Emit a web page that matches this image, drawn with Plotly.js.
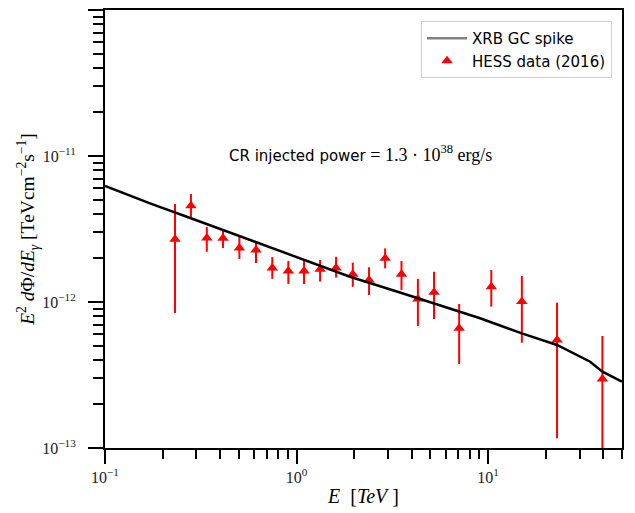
<!DOCTYPE html>
<html>
<head>
<meta charset="utf-8">
<script src="https://cdn.plot.ly/plotly-3.0.1.min.js"></script>
<style>html,body{margin:0;padding:0;background:#fff;} #chart{width:635px;height:513px;}</style>
</head>
<body>
<div id="chart"></div>
<script>
// Model curve (XRB GC spike)
const curveE = [0.1, 0.1718, 0.3, 0.5, 1.0, 1.9, 3.5, 6.0, 9.08, 15.0, 22.9, 34.1, 39.5, 50];
const curveF = [6.23e-12, 4.74e-12, 3.63e-12, 2.84e-12, 2.03e-12, 1.49e-12, 1.156e-12, 9.21e-13, 7.74e-13, 6.10e-13, 5.08e-13, 3.90e-13, 3.33e-13, 2.85e-13];

// HESS data (2016)
const hessE = [0.232, 0.281, 0.340, 0.413, 0.503, 0.614, 0.747, 0.906, 1.094, 1.327, 1.608, 1.966, 2.39, 2.90, 3.53, 4.30, 5.22, 7.06, 10.39, 15.0, 22.9, 39.5];
const hessF = [2.69e-12, 4.57e-12, 2.74e-12, 2.73e-12, 2.34e-12, 2.27e-12, 1.71e-12, 1.63e-12, 1.63e-12, 1.675e-12, 1.71e-12, 1.55e-12, 1.415e-12, 1.99e-12, 1.55e-12, 1.048e-12, 1.165e-12, 6.60e-13, 1.27e-12, 1.008e-12, 5.49e-13, 2.97e-13];
const hessHi = [4.69e-12, 5.49e-12, 3.26e-12, 3.16e-12, 2.79e-12, 2.54e-12, 2.03e-12, 1.91e-12, 1.94e-12, 1.94e-12, 2.04e-12, 1.86e-12, 1.73e-12, 2.33e-12, 1.91e-12, 1.44e-12, 1.61e-12, 9.69e-13, 1.656e-12, 1.507e-12, 9.89e-13, 5.85e-13];
const hessLo = [8.41e-13, 3.70e-12, 2.21e-12, 2.34e-12, 1.97e-12, 1.85e-12, 1.44e-12, 1.33e-12, 1.33e-12, 1.38e-12, 1.47e-12, 1.27e-12, 1.116e-12, 1.70e-12, 1.21e-12, 6.85e-13, 7.65e-13, 3.76e-13, 9.29e-13, 5.26e-13, 1.165e-13, 1e-14];

// Tick labels
const xTickVals = [0.1, 1, 10];
const xTickText = ['10<sup>−1</sup>', '10<sup>0</sup>', '10<sup>1</sup>'];
const yTickVals = [1e-13, 1e-12, 1e-11, 1e-10];
const yTickText = ['10<sup>−13</sup>', '10<sup>−12</sup>', '10<sup>−11</sup>', '10<sup>−10</sup>'];

const serif = 'Liberation Serif, DejaVu Serif, serif';
const sans = 'DejaVu Sans, sans-serif';

const errPlus = hessHi.map((h, i) => h - hessF[i]);
const errMinus = hessLo.map((l, i) => hessF[i] - l);

const traces = [
  { x: [null], y: [null], mode: 'lines', name: 'XRB GC spike',
    line: { color: '#808080', width: 2.5 }, showlegend: true, hoverinfo: 'skip' },
  { x: hessE, y: hessF, mode: 'markers', name: 'HESS data (2016)',
    marker: { symbol: 'triangle-up', size: 10, color: '#ff0000' },
    error_y: { type: 'data', symmetric: false, array: errPlus, arrayminus: errMinus,
               color: '#ff0000', thickness: 2, width: 0 } },
  { x: curveE, y: curveF, mode: 'lines', name: 'XRB GC spike',
    line: { color: '#000000', width: 2.5, shape: 'linear' }, showlegend: false }
];

const layout = {
  width: 635, height: 513,
  margin: { l: 105, r: 13, t: 10, b: 65 },
  paper_bgcolor: '#fff', plot_bgcolor: '#fff',
  showlegend: true,
  xaxis: {
    type: 'log', range: [-1, Math.log10(50)],
    showline: true, mirror: true, linecolor: '#000', linewidth: 2,
    showgrid: false, zeroline: false,
    tickmode: 'array', tickvals: xTickVals, ticktext: xTickText,
    ticks: 'outside', ticklen: 14, tickwidth: 2, tickcolor: '#000',
    minor: { ticks: 'outside', ticklen: 9, tickwidth: 2, tickcolor: '#000', dtick: 'D1', showgrid: false },
    tickfont: { family: serif, size: 16, color: '#222' },
    title: { text: '<i>E</i>  [<i>TeV</i> ]', font: { family: serif, size: 20, color: '#000' }, standoff: 4 }
  },
  yaxis: {
    type: 'log', range: [-13, -10],
    showline: true, mirror: true, linecolor: '#000', linewidth: 2,
    showgrid: false, zeroline: false,
    tickmode: 'array', tickvals: yTickVals, ticktext: yTickText,
    ticks: 'outside', ticklen: 15, tickwidth: 2, tickcolor: '#000',
    ticklabelstandoff: 9,
    minor: { ticks: 'outside', ticklen: 10, tickwidth: 2, tickcolor: '#000', dtick: 'D1', showgrid: false },
    tickfont: { family: serif, size: 16, color: '#222' },
    title: { text: '<i>E</i><sup>2</sup> <i>d</i>Φ/<i>dE</i><sub><i>γ</i></sub> [TeVcm<sup>−2</sup>s<sup>−1</sup>]',
             font: { family: serif, size: 19.5, color: '#000' }, standoff: 2 }
  },
  legend: {
    x: 0.9807, y: 0.9749, xanchor: 'right', yanchor: 'top',
    bgcolor: '#fff', bordercolor: '#d0d0d0', borderwidth: 1,
    font: { family: sans, size: 15, color: '#000' },
    itemwidth: 40, tracegroupgap: 0
  },
  annotations: [{
    xref: 'paper', yref: 'paper', x: (360 - 105) / 517, y: 1 - (153 - 10) / 438,
    xanchor: 'center', yanchor: 'middle', showarrow: false,
    text: '<span style="font-family:DejaVu Sans;font-size:15px">CR injected power</span> = 1.3 · 10<sup>38</sup> erg/s',
    font: { family: serif, size: 18, color: '#000' }
  }]
};

Plotly.newPlot('chart', traces, layout, { displayModeBar: false, staticPlot: true });
</script>
</body>
</html>
